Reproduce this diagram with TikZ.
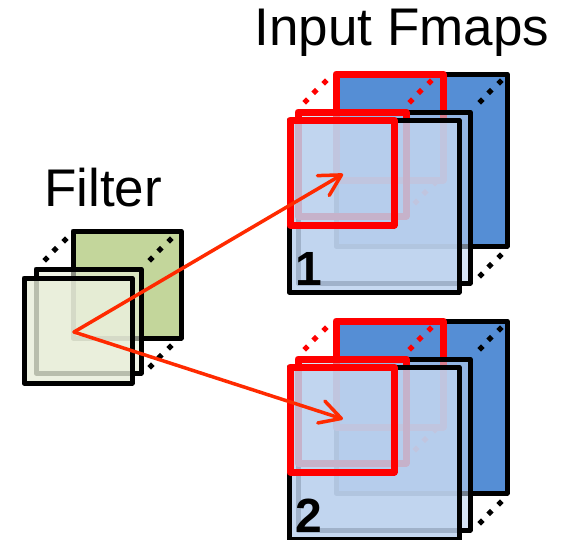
\documentclass[tikz,border=0pt]{standalone}
\usepackage{fontspec}
\setmainfont{Liberation Sans}
\usetikzlibrary{arrows.meta,shapes.geometric}
\definecolor{fmapblue}{HTML}{558ED5}
\definecolor{fmaplight}{HTML}{BDD2EE}
\definecolor{filtergreen}{HTML}{C3D69B}
\definecolor{filterlight}{HTML}{E8EED9}
\definecolor{arrowred}{HTML}{FF2A00}
\tikzset{
	rahmen/.style={line width=5pt,line join=round},
	fenster/.style={draw=red,line width=7pt,line join=round},
	punkt/.style={diamond,fill=#1,inner sep=0pt,minimum size=7.5pt},
	pfeil/.style={arrowred,line width=3.5pt,line cap=round,-{Straight Barb[length=21pt,width=23pt,round]}},
}
\begin{document}
\begin{tikzpicture}[x=1pt,y=-1pt]

\useasboundingbox (0,0) rectangle (564,539);
\clip (0,0) rectangle (564,539);

\def\reihe#1#2#3#4{
\node[punkt=#4] (#1a) at (#2,#3) {};
\node[punkt=#4] (#1b) at ({#2-10},{#3+9.5}) {};
\node[punkt=#4] (#1c) at ({#2-19},{#3+19}) {};
}

\node (titel) at (402,33) {\fontsize{53}{60}\selectfont Input Fmaps};
\node (filter) at (103,188) {\fontsize{53}{60}\selectfont Filter};

% filter
\reihe{fl}{65}{240}{black}
\draw[rahmen,fill=filtergreen] (73,231) rectangle (181,338);
\reihe{fr}{170}{240}{black}
\reihe{fu}{170}{347}{black}
\draw[rahmen,fill=filterlight,fill opacity=0.6] (36,269) rectangle (141,373);
\draw[rahmen,fill=filterlight,fill opacity=0.8] (24,278) rectangle (132,383);
\coordinate (f) at (74,332);

% input fmaps
\foreach \s/\dy in {1/0,2/247}{
\begin{scope}[shift={(0,\dy)}]
	\reihe{a\s}{325}{82}{red}
	\draw[rahmen,fill=fmapblue] (336,74) rectangle (507,246);
	\reihe{b\s}{500}{82}{black}
	\reihe{c\s}{500}{256}{black}
	\draw[fenster] (336,74) rectangle (443,180);
	\reihe{d\s}{430}{82}{red}
	\reihe{e\s}{435}{183}{red}
	\draw[rahmen,fill=fmaplight,fill opacity=0.6] (298,112) rectangle (470,283);
	\draw[fenster] (298,112) rectangle (406,216);
	\draw[rahmen,fill=fmaplight,fill opacity=0.85] (289,120) rectangle (459,292);
	\draw[fenster] (290,120) rectangle (394,225);
	\node[inner sep=0pt] (num\s) at (309,268.5) {\fontsize{48}{50}\selectfont\bfseries \s};
\end{scope}
}

\coordinate (z1) at (343,174);
\coordinate (z2) at (343,419);
\draw[pfeil] (f) -- (z1);
\draw[pfeil] (f) -- (z2);

\end{tikzpicture}
\end{document}
